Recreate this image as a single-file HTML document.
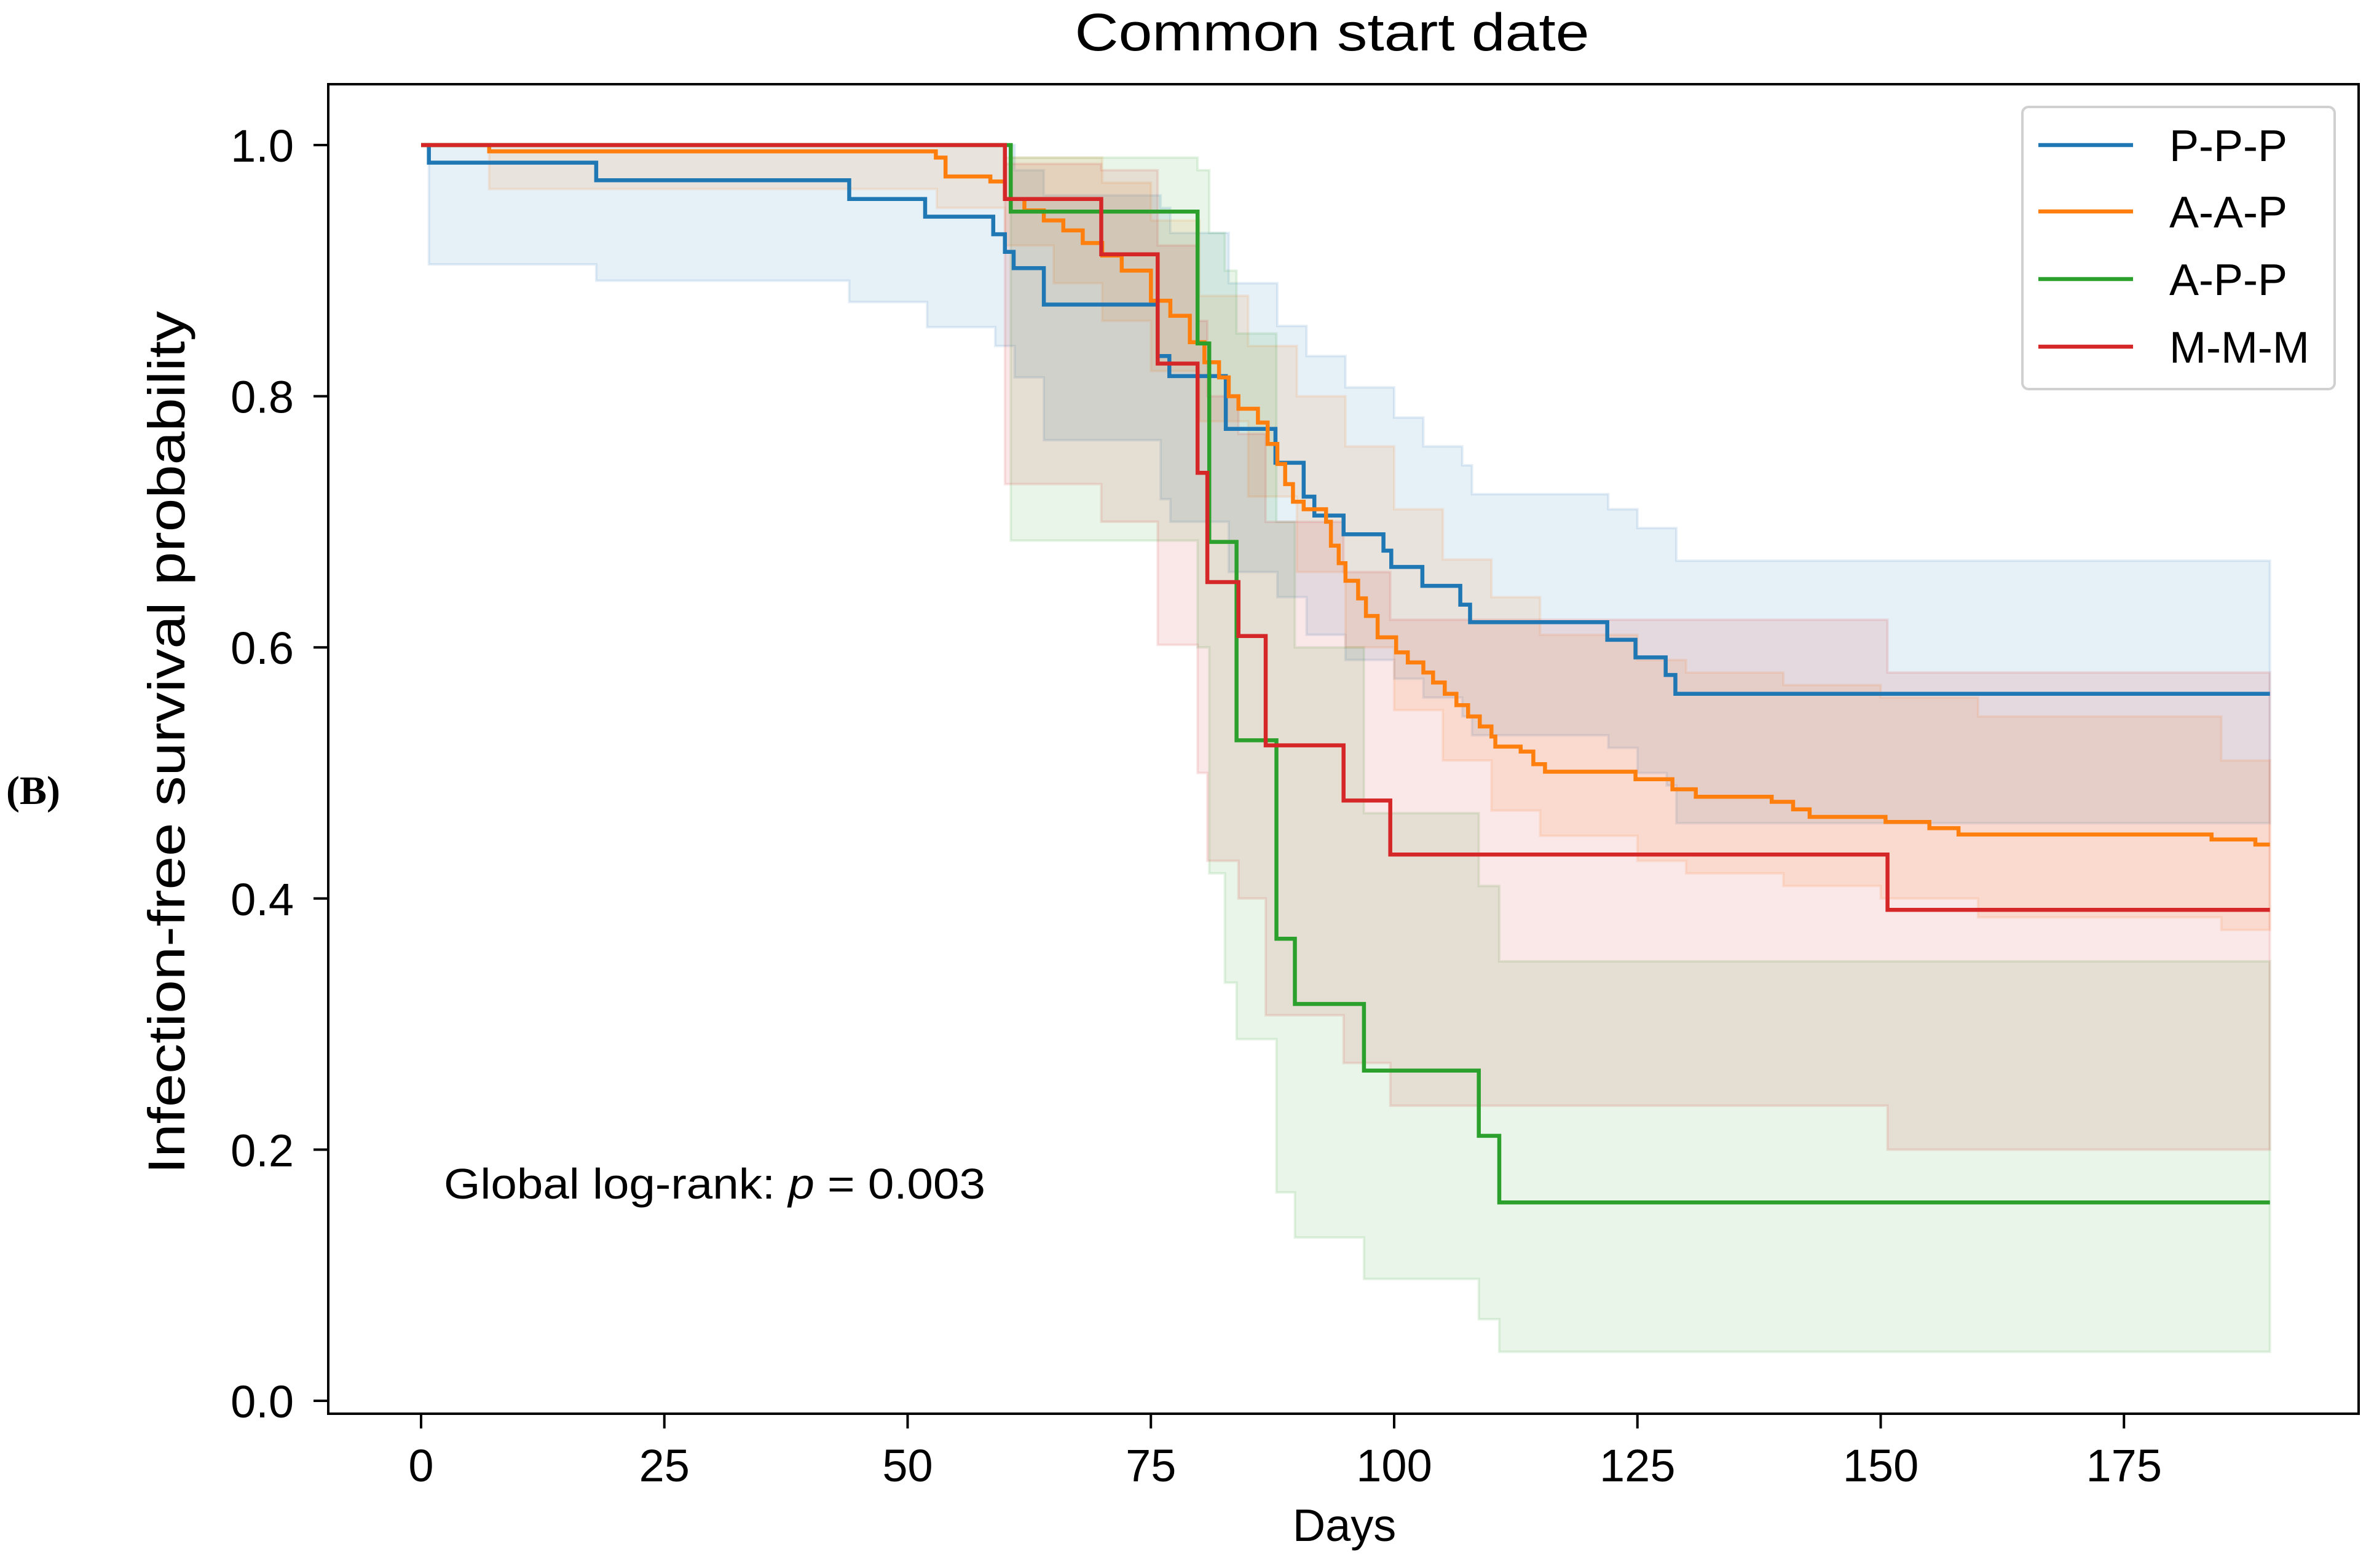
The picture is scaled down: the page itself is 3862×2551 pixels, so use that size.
<!DOCTYPE html>
<html><head><meta charset="utf-8"><style>
html,body{margin:0;padding:0;background:#fff;}
svg{display:block;}
text{font-family:"Liberation Sans","DejaVu Sans",sans-serif;fill:#000;}
</style></head><body>
<svg id="chart" width="3862" height="2551" viewBox="0 0 3862 2551" xmlns="http://www.w3.org/2000/svg">
<rect x="0" y="0" width="3862" height="2551" fill="#fff"/>
<text x="10" y="1308" font-weight="bold" font-size="66" style="font-family:'Liberation Serif',serif">(B)</text>
<text x="2167" y="82" font-size="86" text-anchor="middle" textLength="837" lengthAdjust="spacingAndGlyphs">Common start date</text>
<g id="bands"></g>
<g id="lines"></g>
<rect x="534" y="137" width="3303" height="2163" fill="none" stroke="#000" stroke-width="4"/>
<g id="xaxis"></g>
<g id="yaxis"></g>
<text x="2187" y="2507" font-size="74" text-anchor="middle">Days</text>
<text transform="translate(300,1208) rotate(-90)" font-size="84" text-anchor="middle" textLength="1404" lengthAdjust="spacingAndGlyphs">Infection-free survival probability</text>
<text x="722" y="1950" font-size="70" textLength="881" lengthAdjust="spacingAndGlyphs">Global log-rank: <tspan font-style="italic">p</tspan> = 0.003</text>
<g>
<rect x="3290" y="174" width="508" height="459" rx="10" fill="#fff" fill-opacity="0.8" stroke="#d0d0d0" stroke-width="4"/>
<g id="legend-items"></g>
</g>
</svg>
<script>
const xTicks=[0,25,50,75,100,125,150,175];
const yTicks=[0.0,0.2,0.4,0.6,0.8,1.0];
const yTickLabels=["0.0","0.2","0.4","0.6","0.8","1.0"];
const seriesNames=["P-P-P","A-A-P","A-P-P","M-M-M"];
const seriesColors=["#1f77b4","#ff7f0e","#2ca02c","#d62728"];
const endDay=190;
// P-P-P
const pppT=[0,0.8,18,44,51.8,58.8,60,60.9,64,75.7,76.9,82.7,87.8,90.7,91.8,94.8,98.9,99.7,102.9,106.8,107.8,121.9,124.8,127.9,128.9];
const pppS=[1,0.986,0.972,0.957,0.943,0.929,0.915,0.902,0.873,0.832,0.816,0.774,0.747,0.72,0.705,0.69,0.677,0.664,0.649,0.634,0.62,0.606,0.592,0.578,0.563];
const pppCiT=[0.8,18,44,52,59,61,64,76,77,83,88,91,95,100,103,107,108,122,125,128,129];
const pppLo=[0.905,0.892,0.875,0.855,0.84,0.815,0.765,0.718,0.7,0.66,0.64,0.61,0.59,0.575,0.56,0.545,0.53,0.52,0.5,0.49,0.46];
const pppHi=[1,1,1,1,1,0.98,0.96,0.95,0.93,0.89,0.856,0.832,0.807,0.783,0.76,0.745,0.722,0.71,0.695,0.695,0.669];
// A-A-P
const aapT=[0,7,52.9,53.9,58.5,60,62,64,66,68,70,72,75,77,79,80.5,82,83,84,86,87,88,88.8,89.6,90.7,93,93.5,94.3,95,96.3,97.1,98.3,100.2,101.4,103,104,105.2,106.4,107.6,108.8,110,110.4,113,114.3,115.5,124.8,128.6,131,138.8,141,142.7,150.5,155,158,184,188.5];
const aapS=[1,0.995,0.99,0.975,0.971,0.957,0.948,0.94,0.932,0.922,0.912,0.9,0.876,0.864,0.843,0.827,0.815,0.8,0.79,0.779,0.762,0.746,0.73,0.716,0.71,0.7,0.681,0.667,0.653,0.639,0.625,0.608,0.596,0.588,0.58,0.572,0.563,0.554,0.545,0.537,0.529,0.521,0.517,0.507,0.501,0.495,0.487,0.481,0.477,0.471,0.465,0.461,0.456,0.451,0.447,0.443];
const aapCiT=[7,53,60,65,70,75,80,85,90,95,100,105,110,115,125,130,140,150,160,185];
const aapLo=[0.965,0.95,0.92,0.89,0.86,0.82,0.78,0.72,0.66,0.6,0.55,0.51,0.47,0.45,0.43,0.42,0.41,0.4,0.385,0.375];
const aapHi=[1,1,0.99,0.99,0.97,0.94,0.88,0.84,0.8,0.76,0.71,0.67,0.64,0.61,0.59,0.58,0.57,0.56,0.545,0.51];
// A-P-P
const appT=[0,60.6,79.8,81,83.8,87.9,89.8,96.9,108.7,110.8];
const appS=[1,0.947,0.842,0.684,0.526,0.368,0.316,0.263,0.211,0.158];
const appCiT=[60.6,79.8,81,82.6,83.8,87.9,89.8,96.9,108.7,110.8];
const appLo=[0.685,0.6,0.42,0.333,0.288,0.166,0.13,0.097,0.065,0.039];
const appHi=[0.99,0.98,0.93,0.9,0.85,0.7,0.6,0.468,0.41,0.35];
// M-M-M
const mmmT=[0,60,69.9,75.7,79.8,80.8,84,86.8,94.8,99.6,150.7];
const mmmS=[1,0.957,0.913,0.826,0.739,0.652,0.609,0.522,0.478,0.435,0.391];
const mmmCiT=[60,69.9,75.7,79.8,80.8,84,86.8,94.8,99.6,150.7];
const mmmLo=[0.73,0.7,0.602,0.5,0.43,0.4,0.307,0.269,0.235,0.2];
const mmmHi=[0.985,0.98,0.92,0.86,0.8,0.77,0.7,0.66,0.622,0.58];

const X0=534,X1=3837,Y0=137,Y1=2300;
function xs(d){return 685+d*15.83;}
function ys(p){return 2279-p*2043;}
const NS="http://www.w3.org/2000/svg";
function mk(tag,attrs,parent){const e=document.createElementNS(NS,tag);for(const k in attrs)e.setAttribute(k,attrs[k]);parent.appendChild(e);return e;}
function stepPts(T,S){const pts=[];for(let i=0;i<T.length;i++){if(i>0)pts.push([xs(T[i]),ys(S[i-1])]);pts.push([xs(T[i]),ys(S[i])]);}pts.push([xs(endDay),ys(S[S.length-1])]);return pts;}
const bands=document.getElementById('bands'),lines=document.getElementById('lines');
const groups=[[pppT,pppS,pppCiT,pppLo,pppHi],[aapT,aapS,aapCiT,aapLo,aapHi],[appT,appS,appCiT,appLo,appHi],[mmmT,mmmS,mmmCiT,mmmLo,mmmHi]];
groups.forEach((g,i)=>{
  const up=stepPts(g[2],g[4]),lo=stepPts(g[2],g[3]).reverse();
  const d='M'+up.concat(lo).map(p=>p[0].toFixed(1)+','+p[1].toFixed(1)).join('L')+'Z';
  const b=mk('path',{d:d,fill:seriesColors[i],'fill-opacity':0.11,stroke:seriesColors[i],'stroke-opacity':0.12,'stroke-width':4},bands);
  
  
});
groups.forEach((g,i)=>{
  const pts=stepPts(g[0],g[1]);
  const l=mk('polyline',{points:pts.map(p=>p[0].toFixed(1)+','+p[1].toFixed(1)).join(' '),fill:'none',stroke:seriesColors[i],'stroke-width':6.5},lines);
  
  
});
const xa=document.getElementById('xaxis');
xTicks.forEach(t=>{
  const tk=mk('line',{x1:xs(t),x2:xs(t),y1:Y1,y2:Y1+24,stroke:'#000','stroke-width':4},xa);
  
  
  const tx=mk('text',{x:xs(t),y:2410,'font-size':74,'text-anchor':'middle'},xa);
  tx.textContent=String(t);
  
  
});
const ya=document.getElementById('yaxis');
yTicks.forEach((t,i)=>{
  const tk=mk('line',{x1:X0-24,x2:X0,y1:ys(t),y2:ys(t),stroke:'#000','stroke-width':4},ya);
  
  
  const tx=mk('text',{x:478,y:ys(t)+27,'font-size':74,'text-anchor':'end'},ya);
  tx.textContent=yTickLabels[i];
  
  
});
const lg=document.getElementById('legend-items');
const legY=[236,344,454,564];
seriesNames.forEach((n,i)=>{
  const g=mk('g',{},lg);
  
  
  mk('line',{x1:3316,x2:3470,y1:legY[i],y2:legY[i],stroke:seriesColors[i],'stroke-width':6.5},g);
  const t=mk('text',{x:3529,y:legY[i]+26,'font-size':72},g);
  t.textContent=n;
});
</script>
</body></html>
